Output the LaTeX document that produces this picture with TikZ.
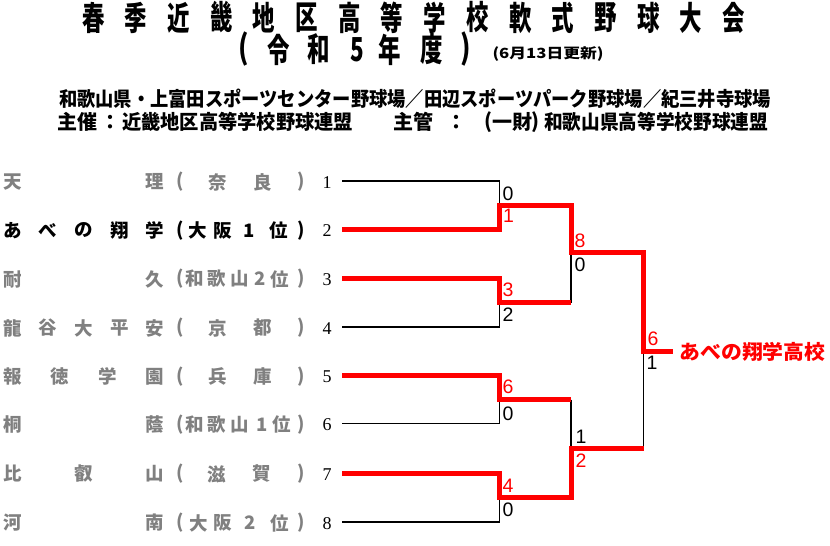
\documentclass[tikz,border=0pt]{standalone}
\usepackage{fontspec}
\usepackage{graphicx}
\newfontfamily\jp{Noto Sans CJK JP}
\newfontfamily\lsans{Liberation Sans}
\newfontfamily\lserif{Liberation Serif}
\definecolor{namegray}{RGB}{128,128,128}
\definecolor{winred}{RGB}{255,0,0}
\newcommand\putname[5]{%
  \foreach \c [count=\i from 0] in {#5} {
    \pgfmathsetmacro\xx{12.3+\i*142.7/(#3-1)}
    \node[namech, text=#4] (nm#1-\i) at (\xx,#2) {\c};
  }}
\newcommand\putpref[4]{%
  \node[namech,text=#3] (pl#1) at (180,#2) {(};
  \node[namech,text=#3] (pr#1) at (301.5,#2) {)};
  \foreach \xp/\c [count=\i] in {#4} {
    \node[namech,text=#3] (pf#1-\i) at (\xp,#2) {\c};
  }}
\begin{document}
\begin{tikzpicture}[x=1pt,y=-1pt,
  tt/.style={inner sep=0pt,outer sep=0pt,anchor=center},
  ttlch/.style={tt,font=\jp\bfseries\fontsize{33}{35}\selectfont},
  subl/.style={tt,font=\jp\bfseries\fontsize{20}{22}\selectfont},
  namech/.style={tt,font=\jp\bfseries\fontsize{18.5}{20}\selectfont},
  numlab/.style={tt,font=\lserif\fontsize{18}{20}\selectfont},
  scorelab/.style={tt,font=\lsans\fontsize{19.5}{21}\selectfont},
  winscore/.style={scorelab,text=winred},
  loseline/.style={draw=black,line width=1.8pt},
  winline/.style={draw=winred,line width=5pt,line join=miter}]
\useasboundingbox (0,0) rectangle (830,546);
% ---- title
\foreach \c [count=\i from 0] in {春,季,近,畿,地,区,高,等,学,校,軟,式,野,球,大,会} {
  \node[ttlch] (ttl\i) at ({93.3+42.7*\i},17.5) {\scalebox{0.68}[1]{\c}};
}
\node[ttlch] (ttlpl) at (244,49.5) {\scalebox{0.8}[1]{(}};
\node[ttlch] (ttla) at (279,49.5) {\scalebox{0.68}[1]{令}};
\node[ttlch] (ttlb) at (319,49.5) {\scalebox{0.68}[1]{和}};
\node[ttlch] (ttlc) at (357,49.5) {\scalebox{0.68}[1]{5}};
\node[ttlch] (ttld) at (390,49.5) {\scalebox{0.68}[1]{年}};
\node[ttlch] (ttle) at (432,49.5) {\scalebox{0.68}[1]{度}};
\node[ttlch] (ttlpr) at (466,49.5) {\scalebox{0.8}[1]{)}};
\node[tt,font=\jp\bfseries\fontsize{14}{16}\selectfont] (upd) at (548,54.5) {\resizebox{111pt}{\height}{(6月13日更新)}};
% ---- subtitle
\node[subl] (sub1) at (415,99) {\resizebox{712pt}{\height}{和歌山県・上富田スポーツセンター野球場／田辺スポーツパーク野球場／紀三井寺球場}};
\node[subl] (sub2a) at (77.5,122) {主催};
\node[subl] (sub2b) at (110,122) {：};
\node[subl] (sub2c) at (237.5,122) {\resizebox{231pt}{\height}{近畿地区高等学校野球連盟}};
\node[subl] (sub2d) at (413,122) {主管};
\node[subl] (sub2e) at (456,122) {：};
\node[subl] (sub2f) at (488.5,122) {(};
\node[subl] (sub2g) at (512.5,122) {一財};
\node[subl] (sub2h) at (535.5,122) {)};
\node[subl] (sub2i) at (656,122) {\resizebox{224pt}{\height}{和歌山県高等学校野球連盟}};
% ---- team names
\putname{1}{182}{2}{namegray}{天,理}
\putname{2}{230.5}{5}{black}{あ,べ,の,翔,学}
\putname{3}{279}{2}{namegray}{耐,久}
\putname{4}{328}{5}{namegray}{龍,谷,大,平,安}
\putname{5}{376.5}{4}{namegray}{報,徳,学,園}
\putname{6}{424.5}{2}{namegray}{桐,蔭}
\putname{7}{474}{3}{namegray}{比,叡,山}
\putname{8}{523}{2}{namegray}{河,南}
\putpref{1}{182}{namegray}{217.5/奈,262.5/良}
\putpref{2}{230.5}{black}{198/大,222.5/阪,249/1,279/位}
\putpref{3}{279}{namegray}{194.5/和,217/歌,239.5/山,260/2,280/位}
\putpref{4}{328}{namegray}{217.5/京,262.5/都}
\putpref{5}{376.5}{namegray}{217.5/兵,262.5/庫}
\putpref{6}{424.5}{namegray}{194.7/和,217/歌,239.5/山,262.5/1,281.7/位}
\putpref{7}{474}{namegray}{216.7/滋,261.7/賀}
\putpref{8}{523}{namegray}{199/大,222.5/阪,250/2,280/位}
% ---- seed numbers
\foreach \n/\yy in {1/181,2/229.5,3/278.5,4/327,5/375.5,6/423.5,7/473,8/522} {
  \node[numlab] (no\n) at (327,\yy+1.5) {\n};
  \coordinate (t\n) at (342,\yy);
}
% ---- junctions
\coordinate (m1) at (499.5,205.8);
\coordinate (m2) at (499.5,302.5);
\coordinate (m3) at (499.5,399.5);
\coordinate (m4) at (499.5,497);
\coordinate (s1) at (571,252.5);
\coordinate (s2) at (571,448);
\coordinate (f) at (643.5,351);
\coordinate (w) at (673,351);
% ---- losing lines
\draw[loseline] (t1) -| (m1);
\draw[loseline] (t4) -| (m2);
\draw[loseline] (t6) -| (m3);
\draw[loseline] (t8) -| (m4);
\draw[loseline] (m2 -| s1) -- (s1);
\draw[loseline] (m3 -| s2) -- (s2);
\draw[loseline] (s2 -| f) -- (f);
% ---- winning lines
\draw[winline] (t2) -| (m1) -| (s1) -| (f) -- (w);
\draw[winline] (t3) -| (m2) -- (m2 -| s1);
\draw[winline] (t5) -| (m3) -- (m3 -| s2);
\draw[winline] (t7) -| (m4) -| (s2) -- (s2 -| f);
% ---- scores
\node[scorelab] (sc1) at (508,193.5) {0};
\node[winscore] (sc2) at (508.5,216) {1};
\node[winscore] (sc3) at (508,290) {3};
\node[scorelab] (sc4) at (508,315) {2};
\node[winscore] (sc5) at (508,387) {6};
\node[scorelab] (sc6) at (508,414) {0};
\node[winscore] (sc7) at (508,486) {4};
\node[scorelab] (sc8) at (508,509.5) {0};
\node[winscore] (sc9) at (580,241) {8};
\node[scorelab] (sc10) at (580,265) {0};
\node[scorelab] (sc11) at (581,437) {1};
\node[winscore] (sc12) at (581,461) {2};
\node[winscore] (sc13) at (653,339) {6};
\node[scorelab] (sc14) at (652,363) {1};
% ---- champion
\node[tt,font=\jp\bfseries\fontsize{20}{22}\selectfont,text=winred] (champ) at (752.5,351.5) {\resizebox{146pt}{\height}{あべの翔学高校}};
\end{tikzpicture}
\end{document}
